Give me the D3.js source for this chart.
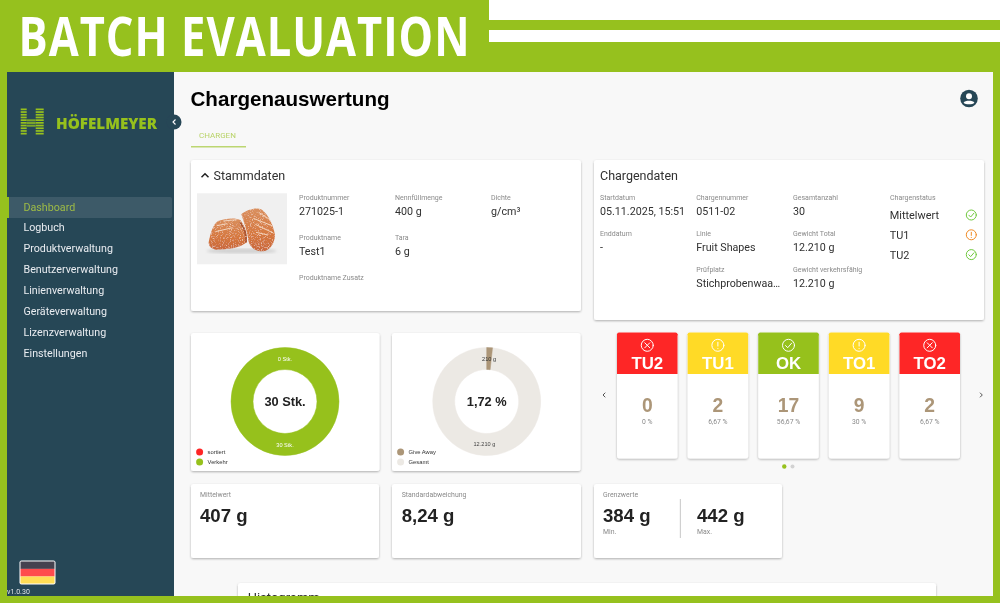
<!DOCTYPE html>
<html><head><meta charset="utf-8">
<style>html,body{margin:0;padding:0;background:#fff;overflow:hidden}svg{display:block}</style>
<script src="https://cdn.jsdelivr.net/npm/d3@7"></script></head>
<body><svg id="c" width="1000" height="603"></svg>
<script>
// ---- data ----
const menuItems = ["Dashboard","Logbuch","Produktverwaltung","Benutzerverwaltung","Linienverwaltung","Geräteverwaltung","Lizenzverwaltung","Einstellungen"];
const stammLabels = [["Produktnummer","271025-1"],["Nennfüllmenge","400 g"],["Dichte","g/cm³"],["Produktname","Test1"],["Tara","6 g"],["",""],["Produktname Zusatz",""]];
const chargeCol1 = [["Startdatum","05.11.2025, 15:51"],["Enddatum","-"]];
const chargeCol2 = [["Chargennummer","0511-02"],["Linie","Fruit Shapes"],["Prüfplatz","Stichprobenwaa…"]];
const chargeCol3 = [["Gesamtanzahl","30"],["Gewicht Total","12.210 g"],["Gewicht verkehrsfähig","12.210 g"]];
const statusNames = ["Mittelwert","TU1","TU2"];
const statusIcons = ["ok","warn","ok"];
const sortNames = ["sortiert","Verkehr"];
const sortValues = [0,30];
const sortLabels = ["0 Stk.","30 Stk."];
const giveNames = ["Give Away","Gesamt"];
const giveValues = [210,12000];
const giveLabels = ["210 g","12.210 g"];
const classNames = ["TU2","TU1","OK","TO1","TO2"];
const classKinds = ["bad","warn","ok","warn","bad"];
const classCounts = [0,2,17,9,2];
const classPercents = ["0 %","6,67 %","56,67 %","30 %","6,67 %"];
const statNames = ["Mittelwert","Standardabweichung"];
const statValues = ["407 g","8,24 g"];
const limitNames = ["Min.","Max."];
const limitValues = ["384 g","442 g"];

// ---- style ----
const GREEN="#96c11e",NAVY="#284657",RED="#fe2828",YEL="#ffda27",TAN="#ac9678",SAND="#ece9e4",INK="#222",MUTE="#8a8a8a",BODY="#303030";
const SANS="Roboto, sans-serif", ARIAL="'Liberation Sans', Arial, sans-serif";
const svg=d3.select("#c");
const defs=svg.append("defs");
const sh=defs.append("filter").attr("id","sh").attr("x","-5%").attr("y","-5%").attr("width","110%").attr("height","115%");
sh.append("feDropShadow").attr("dx",0).attr("dy",1).attr("stdDeviation",0.8).attr("flood-color","#000").attr("flood-opacity",0.3);
const sugar=defs.append("filter").attr("id","bl");
sugar.append("feTurbulence").attr("type","fractalNoise").attr("baseFrequency",0.3).attr("numOctaves",2).attr("seed",3).attr("result","n");
sugar.append("feColorMatrix").attr("in","n").attr("type","matrix").attr("values","0 0 0 0 1  0 0 0 0 0.88  0 0 0 0 0.76  1.8 0 0 0 -0.95").attr("result","a");
sugar.append("feComposite").attr("in","a").attr("in2","SourceGraphic").attr("operator","in").attr("result","s");
const sm=sugar.append("feMerge").attr("result","m");
sm.append("feMergeNode").attr("in","SourceGraphic");
sm.append("feMergeNode").attr("in","s");
sugar.append("feGaussianBlur").attr("in","m").attr("stdDeviation",1.6);
defs.append("filter").attr("id","bl2").append("feGaussianBlur").attr("stdDeviation",5);
const soft=defs.append("filter").attr("id","soft").attr("filterUnits","userSpaceOnUse").attr("x",0).attr("y",0).attr("width",1000).attr("height",603);
soft.append("feGaussianBlur").attr("stdDeviation",0.25);
defs.append("clipPath").attr("id","page").append("rect").attr("x",7).attr("y",72).attr("width",986).attr("height",524);
const gr=defs.append("linearGradient").attr("id","gum").attr("x1",0).attr("y1",0).attr("x2",0).attr("y2",1);
gr.append("stop").attr("offset","0").attr("stop-color","#d98f5e");
gr.append("stop").attr("offset","0.6").attr("stop-color","#d6783f");
gr.append("stop").attr("offset","1").attr("stop-color","#c9683c");

function rect(p,x,y,w,h,f,r){return p.append("rect").attr("x",x).attr("y",y).attr("width",w).attr("height",h).attr("fill",f).attr("rx",r||0);}
function text(p,s,x,y,size,fill,o={}){return p.append("text").text(s).attr("x",x).attr("y",y).attr("font-size",size).attr("fill",fill)
  .attr("font-family",o.font||SANS).attr("font-weight",o.weight||400).attr("text-anchor",o.anchor||"start");}
function card(p,x,y,w,h){return rect(p,x,y,w,h,"#fff",2.5).attr("filter","url(#sh)");}
function icon(p,kind,cx,cy,r,color,sw){
  const g=p.append("g").attr("transform",`translate(${cx},${cy})`).attr("fill","none").attr("stroke",color).attr("stroke-width",sw).attr("stroke-linecap","round").attr("stroke-linejoin","round");
  g.append("circle").attr("r",r);
  const k=r/5.5;
  if(kind==="ok") g.append("path").attr("d",`M${-2.7*k},${0.2*k}L${-0.7*k},${2.2*k}L${2.9*k},${-2*k}`);
  if(kind==="bad") g.append("path").attr("d",`M${-2.3*k},${-2.3*k}L${2.3*k},${2.3*k}M${2.3*k},${-2.3*k}L${-2.3*k},${2.3*k}`);
  if(kind==="warn") g.append("path").attr("d",`M0,${-2.8*k}L0,${0.7*k}M0,${2.8*k}L0,${2.9*k}`);
}

// ---- frame ----
rect(svg,0,0,1000,603,GREEN);
rect(svg,489,0,511,20,"#fff");
rect(svg,489,30,511,12,"#fff");
text(svg,"BATCH EVALUATION",18.5,56,53,"#fff",{font:"'Open Sans', sans-serif",weight:700}).style("letter-spacing","1.2px").attr("textLength",452).attr("lengthAdjust","spacingAndGlyphs");

const page=svg.append("g").attr("clip-path","url(#page)").append("g").attr("filter","url(#soft)");
rect(page,7,72,986,524,"#f8f8f8");

// ---- sidebar ----
rect(page,7,72,167,524,NAVY);
const logo=page.append("g");
const stripeY=d3.range(108.5,134,2.7);
logo.selectAll(".l").data(stripeY).join("rect").attr("x",20.7).attr("y",d=>d).attr("width",6).attr("height",1.7).attr("fill",GREEN);
logo.selectAll(".r").data(stripeY).join("rect").attr("x",35.7).attr("y",d=>d).attr("width",8).attr("height",1.7).attr("fill",GREEN);
logo.selectAll(".m").data(stripeY.filter(d=>d>117&&d<126)).join("rect").attr("x",26.7).attr("y",d=>d).attr("width",9).attr("height",2).attr("fill","#7aa52a");
text(logo,"HÖFELMEYER",56,128.5,15.5,GREEN,{font:"'Open Sans', sans-serif",weight:800}).attr("textLength",101).attr("lengthAdjust","spacingAndGlyphs");
page.append("circle").attr("cx",174).attr("cy",122).attr("r",7.5).attr("fill",NAVY);
page.append("path").attr("d","M175.5,119.5L173,122L175.5,124.5").attr("fill","none").attr("stroke","#fff").attr("stroke-width",1.1);
const yMenu=d3.scalePoint().domain(menuItems).range([206.8,352.8]);
rect(page,8,197,164,21,"#3e5a68",2);
rect(page,7,197,2,21,GREEN);
page.selectAll(".menu").data(menuItems).join("text").attr("class","menu").text(d=>d)
  .attr("x",23.5).attr("y",d=>yMenu(d)+3.8).attr("font-size",10.7).attr("font-family",SANS)
  .attr("fill",(d,i)=>i===0?"#9dbb46":"#e8edf0");
// flag
const flag=page.append("g");
rect(flag,19.5,560.5,36,24,"#fff",2);
rect(flag,20.5,561.5,34,7.4,"#44424f");
rect(flag,20.5,568.9,34,7.6,"#ff4b4e");
rect(flag,20.5,576.5,34,7,"#ffdd55");
text(page,"v1.0.30",7,594,7,"#dfe5e8");

// ---- header ----
text(page,"Chargenauswertung",190.5,106,20.6,"#000",{font:ARIAL,weight:700});
text(page,"CHARGEN",199,137.8,8,"#b9d368");
rect(page,191,146,55,1.5,"#bcd671");
const u=page.append("g").attr("transform","translate(969,98.5)");
u.append("circle").attr("r",8.8).attr("fill",NAVY);
u.append("circle").attr("cy",-2.3).attr("r",3).attr("fill","#fff");
u.append("path").attr("d","M-5.4,4.2C-4,1.6 4,1.6 5.4,4.2C3.5,6.4 -3.5,6.4 -5.4,4.2Z").attr("fill","#fff");

// ---- Stammdaten ----
card(page,191,160,390,151);
page.append("path").attr("d","M201.5,177.2L205,173.7L208.5,177.2").attr("fill","none").attr("stroke","#222").attr("stroke-width",1.5);
text(page,"Stammdaten",213.5,179.5,12.5,BODY);
// product photo
rect(page,197,193.3,90,71,"#f0f0f0");
const ph=page.append("g").attr("transform","translate(190,185) scale(0.3333)");
ph.append("ellipse").attr("cx",155).attr("cy",198).attr("rx",105).attr("ry",7).attr("fill","#cfcfcf").attr("filter","url(#bl2)");
const gum=ph.append("g").attr("filter","url(#bl)");
gum.append("path").attr("d","M56,172C62,140 70,118 84,108C110,98 140,98 152,106C168,130 172,150 170,172C150,190 110,194 78,194C64,192 56,184 56,172Z").attr("fill","url(#gum)");
gum.append("path").attr("d","M154,88C170,74 200,66 216,74C236,90 250,120 255,150C254,176 240,196 220,199C200,200 182,190 176,170C172,140 162,112 154,88Z").attr("fill","url(#gum)");
gum.append("path").attr("d","M80,122L112,116M76,140L128,128M100,108L140,104M206,82L240,104M190,100L246,122M196,118L250,144M198,142L234,150").attr("fill","none").attr("stroke","#f3d4bd").attr("stroke-width",3);
gum.append("path").attr("d","M150,112C164,130 170,150 168,172").attr("fill","none").attr("stroke","#a8512f").attr("stroke-width",5);
function field(p,label,value,x,yLabel,yValue){
  if(label) text(p,label,x,yLabel,7,MUTE);
  if(value) text(p,value,x,yValue,10.7,BODY);
}
const stammX=d3.scalePoint().domain([0,1,2]).range([299,491]);
const stammY=d3.scalePoint().domain([0,1,2]).range([199.5,279.5]);
stammLabels.forEach(([l,v],i)=>{const c=i%3,r=Math.floor(i/3);field(page,l,v,stammX(c),stammY(r),stammY(r)+15.5);});

// ---- Chargendaten ----
card(page,594,160,390,160);
text(page,"Chargendaten",600,179.5,12.5,BODY);
const chargeY=d3.scalePoint().domain([0,1,2]).range([199.5,271.5]);
[chargeCol1,chargeCol2,chargeCol3].forEach((col,c)=>{
  const x=[600,696.3,793][c];
  col.forEach(([l,v],r)=>field(page,l,v,x,chargeY(r),chargeY(r)+15.5));
});
text(page,"Chargenstatus",890,199.5,7,MUTE);
const statusY=d3.scalePoint().domain(statusNames).range([215,254.6]);
statusNames.forEach((s,i)=>{
  text(page,s,889.8,statusY(s)+4,10.9,BODY);
  icon(page,statusIcons[i],971.3,statusY(s),5,statusIcons[i]==="ok"?"#6fc83c":"#f08a24",1);
});

// ---- donuts ----
function donut(cx,cardX,values,labels,names,colors,labelColors,center){
  card(page,cardX,333,188.5,138);
  const cy=401.5,g=page.append("g").attr("transform",`translate(${cx},${cy})`);
  const pie=d3.pie().sort(null).value(d=>d);
  const arc=d3.arc().innerRadius(32).outerRadius(54);
  const arcs=pie(values);
  g.selectAll("path").data(arcs.slice().reverse()).join("path").attr("d",arc)
    .attr("fill",d=>colors[d.index]).attr("stroke",d=>colors[d.index]).attr("stroke-width",d=>d.value?0.5:0);
  g.selectAll(".lb").data(arcs).join("text").attr("class","lb").text((d,i)=>labels[i])
    .attr("x",d=>arc.centroid(d)[0]).attr("y",d=>arc.centroid(d)[1]+2)
    .attr("text-anchor","middle").attr("font-size",5.6).attr("font-family",ARIAL).attr("fill",(d,i)=>labelColors[i]);
  text(g,center,0,4.6,12.8,INK,{font:ARIAL,weight:700,anchor:"middle"});
  const yL=d3.scalePoint().domain(names).range([452,462]);
  const lg=page.selectAll(null).data(names).join("g").attr("transform",d=>`translate(${cardX+8.6},${yL(d)})`);
  lg.append("circle").attr("r",3.5).attr("fill",(d,i)=>colors[i]);
  lg.append("text").text(d=>d).attr("x",8).attr("y",2).attr("font-size",5.8).attr("font-family",ARIAL).attr("fill","#333");
}
donut(285,191,sortValues,sortLabels,sortNames,[RED,GREEN],["#fff","#fff"],"30 Stk.");
donut(486.7,392,giveValues,giveLabels,giveNames,[TAN,SAND],["#333","#444"],"1,72 %");

// ---- class cards ----
const xClass=d3.scaleBand().domain(classNames).range([617,960]).paddingInner(0.143);
const colorKind={bad:RED,warn:YEL,ok:GREEN};
classNames.forEach((n,i)=>{
  const x=xClass(n),w=xClass.bandwidth(),mid=x+w/2;
  card(page,x,332.5,w,126);
  rect(page,x,332.5,w,4,colorKind[classKinds[i]],2);
  rect(page,x,334,w,40,colorKind[classKinds[i]]);
  icon(page,classKinds[i],mid,345.3,6,"#fff",1);
  text(page,n,mid,369.4,16.8,"#fff",{font:ARIAL,weight:700,anchor:"middle"});
  text(page,classCounts[i],mid,412.4,19.3,TAN,{font:ARIAL,weight:700,anchor:"middle"});
  text(page,classPercents[i],mid,423.8,6.8,MUTE,{font:SANS,anchor:"middle"});
});
page.append("path").attr("d","M605.3,392.7L603,395L605.3,397.3M980,392.7L982.3,395L980,397.3").attr("fill","none").attr("stroke","#555").attr("stroke-width",1);
page.append("circle").attr("cx",784.3).attr("cy",466.5).attr("r",2.2).attr("fill",GREEN);
page.append("circle").attr("cx",792.5).attr("cy",466.5).attr("r",2).attr("fill","#d2d2d2");

// ---- stat cards ----
const xStat=d3.scalePoint().domain(statNames).range([191,392]);
statNames.forEach((n,i)=>{
  const x=xStat(n);
  card(page,x,484,i?189:188,74);
  text(page,n,x+(i?9.7:9),497.3,6.9,MUTE);
  text(page,statValues[i],x+(i?9.7:9),521.5,18.6,INK,{font:ARIAL,weight:700});
});
card(page,594,484,188,74);
text(page,"Grenzwerte",603,497.3,6.9,MUTE);
const xLim=d3.scalePoint().domain(limitNames).range([603,697]);
limitNames.forEach((n,i)=>{
  text(page,limitValues[i],xLim(n),521.5,18.6,INK,{font:ARIAL,weight:700});
  text(page,n,xLim(n),534,6.9,MUTE);
});
rect(page,679.8,499,1.2,39,"#d0d0d0");

// ---- histogram card, cut by the frame as in the reference ----
card(page,238,583,698,40);
text(page,"Histogramm",247.7,602,13,BODY);
</script></body></html>
